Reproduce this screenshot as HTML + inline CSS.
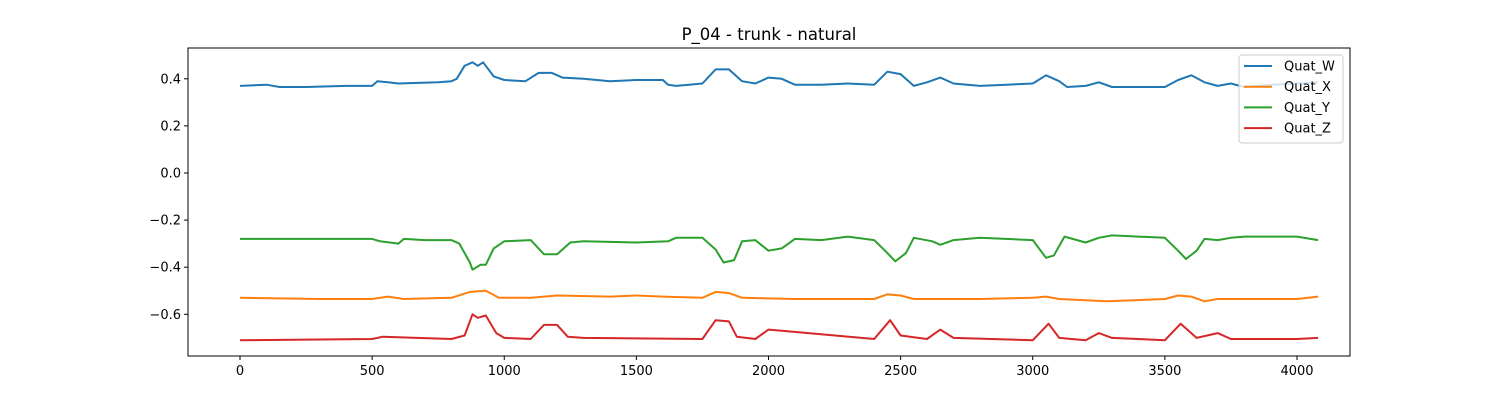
<!DOCTYPE html>
<html><head><meta charset="utf-8"><style>
body{margin:0;background:#fff;}
svg text{font-family:"DejaVu Sans","Liberation Sans",sans-serif;}
</style></head><body>
<svg id="chart" width="1500" height="400" xmlns="http://www.w3.org/2000/svg">
<rect width="1500" height="400" fill="#fff"/>
<text x="769" y="40" font-size="16.5" text-anchor="middle" fill="#000">P_04 - trunk - natural</text>
<g id="plot"></g>
<rect x="188" y="48" width="1162" height="308" fill="none" stroke="#000" stroke-width="1"/>
<g id="axes"></g>
<g>
<rect x="1239" y="55" width="104" height="88" fill="#fff" fill-opacity="0.8" stroke="#ccc" rx="3"/>
<g id="legend-items"></g>
</g>
</svg>
<script>
const wX=[0,100,150,250,400,500,520,560,600,750,800,820,850,880,900,920,960,1000,1080,1130,1180,1220,1300,1400,1500,1600,1620,1650,1700,1750,1800,1850,1900,1950,2000,2050,2100,2200,2300,2400,2450,2500,2550,2600,2650,2700,2800,2900,3000,3050,3100,3130,3200,3250,3300,3400,3500,3550,3600,3650,3700,3750,3800,3900,4000,4080];
const wV=[0.37,0.375,0.365,0.365,0.37,0.37,0.39,0.385,0.38,0.385,0.39,0.40,0.455,0.47,0.455,0.47,0.41,0.395,0.39,0.425,0.425,0.405,0.40,0.39,0.395,0.395,0.375,0.37,0.375,0.38,0.44,0.44,0.39,0.38,0.405,0.40,0.375,0.375,0.38,0.375,0.43,0.42,0.37,0.385,0.405,0.38,0.37,0.375,0.38,0.415,0.39,0.365,0.37,0.385,0.365,0.365,0.365,0.395,0.415,0.385,0.37,0.38,0.365,0.375,0.38,0.385];
const yX=[0,500,530,600,620,700,800,830,870,880,910,930,960,1000,1100,1150,1200,1250,1300,1500,1620,1650,1750,1800,1830,1870,1900,1950,2000,2050,2100,2200,2300,2400,2450,2480,2520,2550,2620,2650,2700,2800,3000,3050,3080,3120,3200,3250,3300,3500,3550,3580,3620,3650,3700,3750,3800,4000,4080];
const yV=[-0.28,-0.28,-0.29,-0.30,-0.28,-0.285,-0.285,-0.30,-0.38,-0.41,-0.39,-0.39,-0.32,-0.29,-0.285,-0.345,-0.345,-0.295,-0.29,-0.295,-0.29,-0.275,-0.275,-0.325,-0.38,-0.37,-0.29,-0.285,-0.33,-0.32,-0.28,-0.285,-0.27,-0.285,-0.34,-0.375,-0.34,-0.275,-0.29,-0.305,-0.285,-0.275,-0.285,-0.36,-0.35,-0.27,-0.295,-0.275,-0.265,-0.275,-0.33,-0.365,-0.33,-0.28,-0.285,-0.275,-0.27,-0.27,-0.285];
const xX=[0,300,500,560,620,800,870,930,980,1100,1200,1400,1500,1600,1750,1800,1850,1900,2100,2400,2450,2500,2550,2800,3000,3050,3100,3280,3500,3550,3600,3650,3700,4000,4080];
const xV=[-0.53,-0.535,-0.535,-0.525,-0.535,-0.53,-0.505,-0.50,-0.53,-0.53,-0.52,-0.525,-0.52,-0.525,-0.53,-0.505,-0.51,-0.53,-0.535,-0.535,-0.515,-0.52,-0.535,-0.535,-0.53,-0.525,-0.535,-0.545,-0.535,-0.52,-0.525,-0.545,-0.535,-0.535,-0.525];
const zX=[0,500,540,800,850,880,900,930,970,1000,1100,1150,1200,1240,1300,1750,1800,1850,1880,1950,2000,2050,2400,2460,2500,2600,2650,2700,3000,3060,3100,3200,3250,3300,3500,3560,3620,3700,3750,4000,4080];
const zV=[-0.71,-0.705,-0.695,-0.705,-0.69,-0.60,-0.615,-0.605,-0.68,-0.70,-0.705,-0.645,-0.645,-0.695,-0.70,-0.705,-0.625,-0.63,-0.695,-0.705,-0.665,-0.67,-0.705,-0.625,-0.69,-0.705,-0.665,-0.70,-0.71,-0.64,-0.70,-0.71,-0.68,-0.70,-0.71,-0.64,-0.70,-0.68,-0.705,-0.705,-0.70];
const xTicks=[0,500,1000,1500,2000,2500,3000,3500,4000];
const yTicks=[0.4,0.2,0.0,-0.2,-0.4,-0.6];
const yTickLabels=["0.4","0.2","0.0","−0.2","−0.4","−0.6"];
const seriesNames=["Quat_W","Quat_X","Quat_Y","Quat_Z"];
const colors=["#1f77b4","#ff7f0e","#2ca02c","#d62728"];
const sx=v=>240+v*0.26425;
const sy=v=>173-v*235.5;
const NS="http://www.w3.org/2000/svg";
const plot=document.getElementById('plot'), axes=document.getElementById('axes');
function mk(t,a,p){const e=document.createElementNS(NS,t);for(const k in a)e.setAttribute(k,a[k]);p.appendChild(e);return e;}
const data=[[wX,wV],[xX,xV],[yX,yV],[zX,zV]];
data.forEach((d,i)=>{
  const pts=d[0].map((x,j)=>sx(x).toFixed(1)+','+sy(d[1][j]).toFixed(1)).join(' ');
  const pl=mk('polyline',{points:pts,fill:'none',stroke:colors[i],'stroke-width':2,'stroke-linejoin':'round'},plot);
  
  
});
xTicks.forEach(t=>{
  const g=mk('g',{},axes);
  
  
  mk('line',{x1:sx(t),x2:sx(t),y1:356,y2:360,stroke:'#000'},g);
  const tx=mk('text',{x:sx(t),y:375,'font-size':13,'text-anchor':'middle'},g);tx.textContent=t;
});
yTicks.forEach((t,i)=>{
  const g=mk('g',{},axes);
  
  
  mk('line',{x1:184,x2:188,y1:sy(t),y2:sy(t),stroke:'#000'},g);
  const tx=mk('text',{x:181,y:sy(t)+4.5,'font-size':13,'text-anchor':'end'},g);tx.textContent=yTickLabels[i];
});
const li=document.getElementById('legend-items');
seriesNames.forEach((n,i)=>{
  const g=mk('g',{},li);
  
  
  const y=66+i*20.7;
  mk('line',{x1:1244,x2:1272,y1:y,y2:y,stroke:colors[i],'stroke-width':2},g);
  const t=mk('text',{x:1284,y:y+4.5,'font-size':13},g);t.textContent=n;
});
</script>
</body></html>
